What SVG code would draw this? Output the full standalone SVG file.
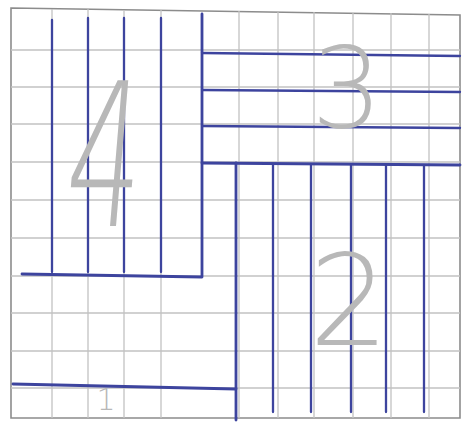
<svg xmlns="http://www.w3.org/2000/svg" width="462" height="423" viewBox="0 0 462 423">
<style>
.grid{stroke:#c2c2c2;stroke-width:1.3;fill:none}
.border{stroke:#8c8c8c;stroke-width:1.6;fill:none}
.ink{stroke:#3d449e;stroke-width:2.3;fill:none;stroke-linecap:round}
.bold{stroke-width:2.8}
.digit{font-family:"DejaVu Sans","Liberation Sans",sans-serif;font-weight:200;fill:#b8b8b8;text-anchor:middle}
</style>
<rect width="462" height="423" fill="#ffffff"/>
<g id="grid">
<polygon class="border" points="11,8 460,15 460,418 11,418"/>
<path class="grid" d="M52 9V418 M88 9V418 M124 10V418 M161 10V418 M239 11V418 M278 12V418 M314 12V418 M353 13V418 M391 13V418 M429 14V418"/>
<path class="grid" d="M11 50H460 M11 87H460 M11 124H460 M11 162H460 M11 200H460 M11 238H460 M11 276H460 M11 313H460 M11 351H460 M11 388H460"/>
</g>
<g id="region4">
<path class="ink" d="M52 20V272 M88 18V272 M124 18V272 M161 18V272"/>
<path class="ink bold" d="M202 14V277 M22 274L202 277"/>
<text class="digit" transform="translate(100,226) scale(0.75,1.25) skewX(-8)" font-size="160">4</text>
</g>
<g id="region3">
<path class="ink" d="M202 53L460 56 M202 90L460 92 M202 126L460 128"/>
<path class="ink bold" d="M202 163L460 165"/>
<text class="digit" x="347" y="127" font-size="112">3</text>
</g>
<g id="region2">
<path class="ink bold" d="M236 163V420"/>
<path class="ink" d="M273 165V412 M311 165V412 M351 165V412 M386 165V412 M424 166V412"/>
<text class="digit" x="349" y="345" font-size="126">2</text>
</g>
<g id="region1">
<path class="ink bold" d="M13 384L236 389"/>
<text class="digit" x="106" y="410" font-size="30">1</text>
</g>
</svg>
